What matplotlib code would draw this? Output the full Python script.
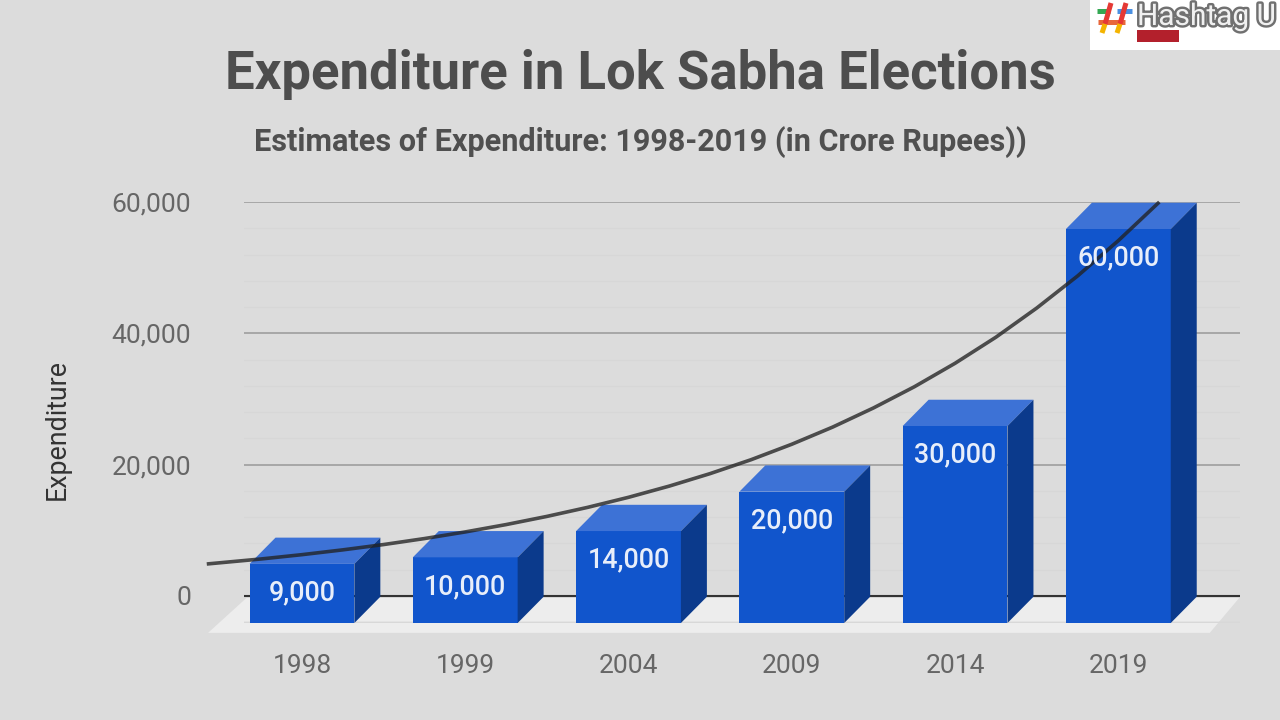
import matplotlib
matplotlib.use("Agg")
import matplotlib.pyplot as plt
import matplotlib.patheffects as pe
from matplotlib.patches import Rectangle, Polygon

W, H = 1280, 720
years = ["1998", "1999", "2004", "2009", "2014", "2019"]
spend = [9000, 10000, 14000, 20000, 30000, 60000]
trend_pos = [-0.583, -0.25, 0, 0.25, 0.5, 0.75, 1, 1.25, 1.5, 1.75, 2, 2.25, 2.5, 2.75, 3, 3.25, 3.5, 3.75, 4, 4.25, 4.5, 4.75, 5, 5.251]
trend_val = [4873, 5640, 6295, 7025, 7835, 8745, 9755, 10875, 12120, 13500, 15030, 16740, 18640, 20750, 23110, 25720, 28635, 31855, 35440, 39410, 43850, 48730, 54120, 60000]

plt.rcParams["font.family"] = ["Roboto", "DejaVu Sans"]
BG = "#dcdcdc"
fig = plt.figure(figsize=(12.8, 7.2), dpi=100, facecolor=BG)

def px(x, y):
    return x / W, 1 - y / H

# plot area: x 244..1240, y 202 (60000) .. 623 (base)
ax = fig.add_axes([244 / W, 1 - 623 / H, 996 / W, 421 / H], facecolor="none")
BASE = -4112
DX, DY = 0.159, 4000
BW = 0.642
ax.set_xlim(-0.355, 5.745)
ax.set_ylim(BASE, 60000)
for s in ax.spines.values():
    s.set_visible(False)

ax.set_yticks([0, 20000, 40000, 60000])
ax.set_yticklabels(["0", "20,000", "40,000", "60,000"])
ax.set_yticks([v for v in range(-4000, 60000, 4000) if v % 20000], minor=True)
ax.set_xticks(range(len(years)))
ax.set_xticklabels(years)
ax.tick_params(axis="both", which="both", length=0)
ax.tick_params(axis="y", which="major", labelsize=19, labelcolor="#666666", pad=38)
ax.tick_params(axis="x", which="major", labelsize=19, labelcolor="#666666", pad=22)
for lab in ax.get_yticklabels():
    lab.set_verticalalignment("center_baseline")
ax.grid(axis="y", which="major", color="#9e9e9e", lw=1.2, zorder=1)
ax.grid(axis="y", which="minor", color="#d7d7d7", lw=1.0, zorder=1)
ax.set_axisbelow(True)

# floor (in data units, depth-shifted)
ax.add_patch(Polygon([(-0.575, BASE - 1500), (5.56, BASE - 1500), (5.74, -300), (-0.34, -300)],
                     closed=True, fc="#ededed", ec="none", zorder=0.5, clip_on=False))
ax.axhline(-4000, color="#d8d8d8", lw=1, zorder=0.6)
ax.axhline(0, color="#333333", lw=1.5, zorder=1.5)

FRONT, TOP, SIDE = "#1155cc", "#3d72d6", "#0b3a8c"
ax.bar(range(len(years)), spend, width=BW, bottom=BASE, color=FRONT, zorder=3, clip_on=False)
for i, v in enumerate(spend):
    l, r = i - BW / 2, i + BW / 2
    t = BASE + v
    ax.add_patch(Polygon([(l, t), (r, t), (r + DX, t + DY), (l + DX, t + DY)], fc=TOP, ec="none", zorder=3, clip_on=False))
    ax.add_patch(Polygon([(r, BASE), (r + DX, BASE + DY), (r + DX, t + DY), (r, t)], fc=SIDE, ec="none", zorder=3, clip_on=False))
    ax.annotate(f"{v:,}", (i, t), xytext=(0, -21), textcoords="offset points", ha="center", va="center",
                color="#e8eefa", fontsize=19.4, fontweight="medium", zorder=6)

ax.plot(trend_pos, trend_val, color="#222222", alpha=0.78, lw=2.6, zorder=5, clip_on=False, solid_capstyle="butt")

# titles
x, y = px(640, 75)
fig.text(x, y, "Expenditure in Lok Sabha Elections", ha="center", va="center", fontsize=37.9, fontweight="bold", color="#4d4d4d")
x, y = px(640, 142)
fig.text(x, y, "Estimates of Expenditure: 1998-2019 (in Crore Rupees))", ha="center", va="center", fontsize=22.1, fontweight="bold", color="#505050")
x, y = px(57, 430)
fig.text(x, y, "Expenditure", rotation=90, ha="center", va="center", fontsize=19.3, color="#333333")

# logo
ov = fig.add_axes([0, 0, 1, 1], facecolor="none")
ov.set_xlim(0, W)
ov.set_ylim(H, 0)
ov.axis("off")
ov.add_patch(Rectangle((1090, 0), 190, 50, fc="white", ec="none"))
for xs, ys, c in [((1097, 1110), (11, 11), "#34a853"), ((1117, 1132), (11, 11), "#4a90e2"),
                  ((1098, 1125), (22, 22), "#e8663a"),
                  ((1111, 1105), (3, 24), "#e53935"), ((1126, 1120), (3, 24), "#e53935"),
                  ((1105, 1102), (24, 33), "#f4b400"), ((1120, 1117), (24, 33), "#f4b400")]:
    ov.plot(xs, ys, color=c, lw=3.6, solid_capstyle="butt")
ov.text(1137, 17, "Hashtag U", fontsize=21.5, color="#f0f0f0", va="center", ha="left",
        path_effects=[pe.withStroke(linewidth=3.5, foreground="#707070")])
ov.add_patch(Rectangle((1137, 30), 42, 12, fc="#b3202c", ec="none"))

fig.savefig("out.png", dpi=100, facecolor=BG)
